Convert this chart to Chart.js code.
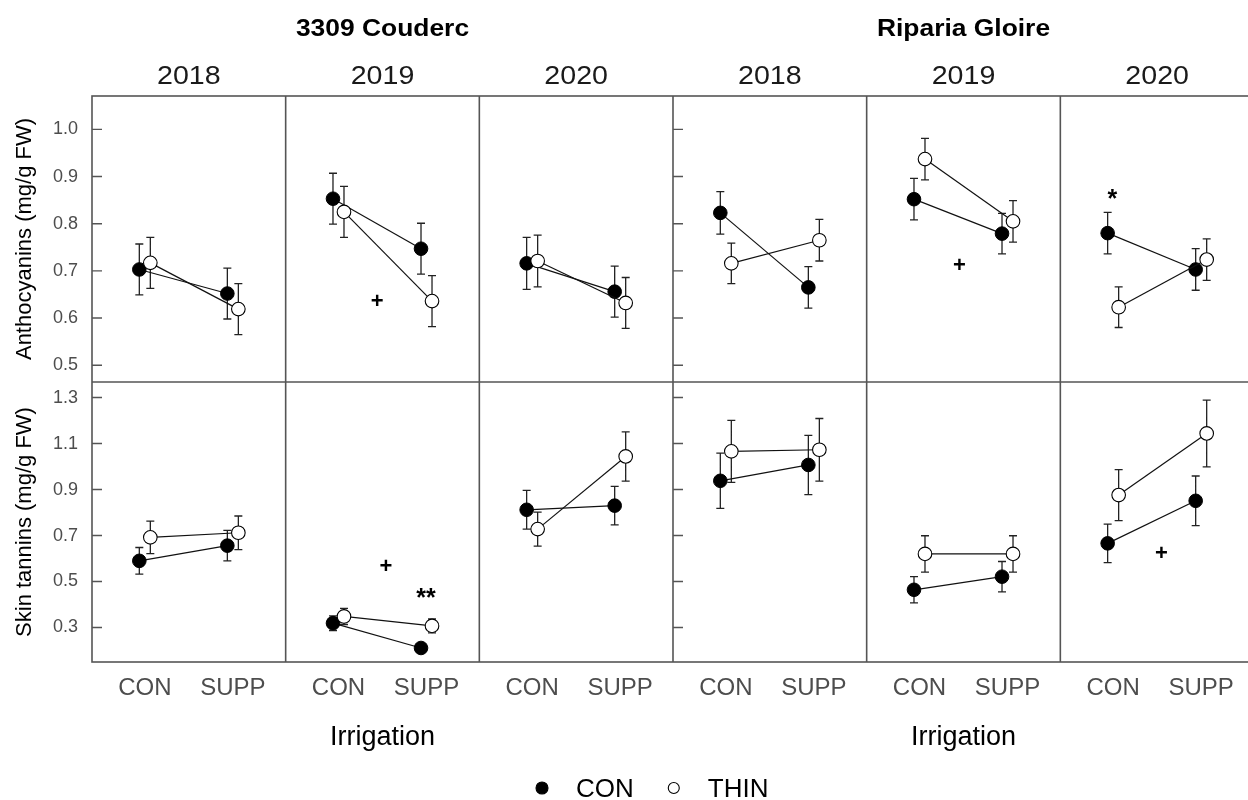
<!DOCTYPE html>
<html>
<head>
<meta charset="utf-8">
<script src="https://cdn.jsdelivr.net/npm/chart.js@4.4.1/dist/chart.umd.min.js"></script>
<style>
  html, body { margin: 0; padding: 0; background: #fff; overflow: hidden; width: 1248px; height: 800px; }
  #wrap { position: absolute; left: 0; top: 0; width: 1262px; height: 800px; }
</style>
</head>
<body>
<div id="wrap"><canvas id="c" width="1262" height="800"></canvas></div>
<script>
const FONT = '"Liberation Sans", Arial, sans-serif';

const rootstocks = ['3309 Couderc', 'Riparia Gloire'];
const years = ['2018', '2019', '2020'];
const irrigation = ['CON', 'SUPP'];
const treatments = ['CON', 'THIN'];
const anthTicks = [0.5, 0.6, 0.7, 0.8, 0.9, 1.0];
const tanTicks = [0.3, 0.5, 0.7, 0.9, 1.1, 1.3];

// one pair per panel: [irrigation CON, irrigation SUPP]
// panels: 3309 2018, 2019, 2020, Riparia 2018, 2019, 2020
const anthCon    = [[0.703, 0.652], [0.853, 0.747], [0.716, 0.656], [0.823, 0.665], [0.852, 0.779], [0.780, 0.703]];
const anthConSe  = [[0.054, 0.054], [0.054, 0.054], [0.055, 0.054], [0.045, 0.044], [0.044, 0.043], [0.044, 0.044]];
const anthThin   = [[0.717, 0.619], [0.825, 0.636], [0.721, 0.632], [0.716, 0.765], [0.937, 0.805], [0.623, 0.724]];
const anthThinSe = [[0.054, 0.054], [0.054, 0.054], [0.055, 0.054], [0.043, 0.044], [0.044, 0.044], [0.043, 0.044]];

const tanCon     = [[0.590, 0.656], [0.319, 0.211], [0.812, 0.830], [0.938, 1.007], [0.464, 0.521], [0.666, 0.851]];
const tanConSe   = [[0.058, 0.066], [0.032, 0.012], [0.084, 0.084], [0.120, 0.129], [0.057, 0.066], [0.084, 0.108]];
const tanThin    = [[0.692, 0.712], [0.348, 0.307], [0.728, 1.044], [1.066, 1.073], [0.620, 0.620], [0.876, 1.144]];
const tanThinSe  = [[0.071, 0.073], [0.035, 0.030], [0.074, 0.107], [0.135, 0.136], [0.079, 0.079], [0.111, 0.145]];

// significance marks: panel, row, x (irrigation units), y (value)
const marks = [
  {panel: 1, row: 'yA', x: 1.44,  y: 0.634, text: '+'},
  {panel: 4, row: 'yA', x: 1.455, y: 0.710, text: '+'},
  {panel: 5, row: 'yA', x: 0.99,  y: 0.849, text: '*'},
  {panel: 1, row: 'yT', x: 1.538, y: 0.565, text: '+'},
  {panel: 1, row: 'yT', x: 1.995, y: 0.422, text: '**'},
  {panel: 5, row: 'yT', x: 1.549, y: 0.620, text: '+'}
];

const rows = [
  {id: 'yA', title: 'Anthocyanins (mg/g FW)', ticks: anthTicks, min: 0.4645, max: 1.0707,
   con: anthCon, conSe: anthConSe, thin: anthThin, thinSe: anthThinSe, weight: 2, stackWeight: 286},
  {id: 'yT', title: 'Skin tannins (mg/g FW)', ticks: tanTicks, min: 0.150, max: 1.3677,
   con: tanCon, conSe: tanConSe, thin: tanThin, thinSe: tanThinSe, weight: 1, stackWeight: 280}
];

const panelCount = rootstocks.length * years.length;
const dodge = 0.0625;
const FRAME = '#555';

const scales = {};
for (let p = 0; p < panelCount; p++) {
  scales['x' + p] = {
    type: 'linear', axis: 'x', position: 'bottom', stack: 'cols', stackWeight: 1,
    min: 0.4, max: 2.6,
    grid: {display: false, drawTicks: false},
    border: {display: false},
    afterBuildTicks: s => { s.ticks = [{value: 1}, {value: 2}]; },
    afterFit: s => { s.height = 40; s.paddingLeft = 0; s.paddingRight = 0; },
    ticks: {
      callback: v => irrigation[v - 1],
      font: {family: FONT, size: 24}, color: '#4d4d4d', padding: 12,
      maxRotation: 0, autoSkip: false
    }
  };
}
rows.forEach(r => {
  scales[r.id] = {
    type: 'linear', axis: 'y', position: 'left', stack: 'rows',
    stackWeight: r.stackWeight, weight: r.weight,
    min: r.min, max: r.max,
    grid: {display: false, drawTicks: false},
    border: {display: false},
    afterBuildTicks: s => { s.ticks = r.ticks.map(v => ({value: v})); },
    afterFit: s => { s.width = 92; s.paddingTop = 0; s.paddingBottom = 0; },
    ticks: {callback: v => v.toFixed(1), font: {family: FONT, size: 18}, color: '#4d4d4d', padding: 14},
    title: {display: true, text: r.title, font: {family: FONT, size: 22}, color: '#000', padding: {top: 12, bottom: 0}}
  };
});

const styles = {
  THIN: {pointBackgroundColor: '#fff', pointBorderColor: '#000', pointBorderWidth: 1.1},
  CON:  {pointBackgroundColor: '#000', pointBorderColor: '#000', pointBorderWidth: 1}
};

const datasets = [];
rows.forEach(r => {
  for (let p = 0; p < panelCount; p++) {
    [['THIN', r.thin, r.thinSe, dodge], ['CON', r.con, r.conSe, -dodge]].forEach(([t, vals, se, d]) => {
      datasets.push(Object.assign({
        label: t,
        data: irrigation.map((_, i) => ({x: i + 1 + d, y: vals[p][i]})),
        se: se[p],
        xAxisID: 'x' + p, yAxisID: r.id,
        showLine: true, borderColor: '#111', borderWidth: 1.2,
        pointRadius: 6.8, pointHoverRadius: 6.8
      }, styles[t]));
    });
  }
});

function stretchText(ctx, text, x, y, sx) {
  ctx.save();
  ctx.translate(x, y);
  ctx.scale(sx, 1);
  ctx.fillText(text, 0, 0);
  ctx.restore();
}

const panelDecor = {
  id: 'panelDecor',
  beforeDatasetsDraw(chart) {
    const {ctx, chartArea: a} = chart;
    ctx.save();
    // error bars
    ctx.strokeStyle = '#222';
    ctx.lineWidth = 1.3;
    ctx.beginPath();
    chart.data.datasets.forEach((ds, i) => {
      const meta = chart.getDatasetMeta(i);
      const ys = chart.scales[ds.yAxisID];
      meta.data.forEach((el, j) => {
        const v = ds.data[j].y, e = ds.se[j];
        const y1 = ys.getPixelForValue(v - e), y2 = ys.getPixelForValue(v + e);
        ctx.moveTo(el.x, y1); ctx.lineTo(el.x, y2);
        ctx.moveTo(el.x - 4, y1); ctx.lineTo(el.x + 4, y1);
        ctx.moveTo(el.x - 4, y2); ctx.lineTo(el.x + 4, y2);
      });
    });
    ctx.stroke();
    // frame
    ctx.strokeStyle = FRAME;
    ctx.lineWidth = 1.6;
    ctx.strokeRect(a.left, a.top, a.right - a.left, a.bottom - a.top);
    ctx.beginPath();
    for (let p = 1; p < panelCount; p++) {
      const s = chart.scales['x' + p];
      ctx.moveTo(s.left, a.top); ctx.lineTo(s.left, a.bottom);
    }
    const yT = chart.scales.yT;
    ctx.moveTo(a.left, yT.top); ctx.lineTo(a.right, yT.top);
    ctx.stroke();
    // inward ticks at the start of each rootstock block
    ctx.lineWidth = 1.4;
    ctx.beginPath();
    rootstocks.forEach((_, k) => {
      const xs = chart.scales['x' + k * years.length].left;
      rows.forEach(r => {
        const ys = chart.scales[r.id];
        r.ticks.forEach(v => {
          const py = ys.getPixelForValue(v);
          ctx.moveTo(xs, py); ctx.lineTo(xs + 10, py);
        });
      });
    });
    ctx.stroke();
    ctx.restore();
  },
  afterDraw(chart) {
    const {ctx} = chart;
    ctx.save();
    ctx.fillStyle = '#000';
    ctx.textAlign = 'center';
    // significance marks
    ctx.textBaseline = 'middle';
    marks.forEach(m => {
      const xs = chart.scales['x' + m.panel], ys = chart.scales[m.row];
      ctx.font = m.text === '+' ? `bold 22px ${FONT}` : `bold 25px ${FONT}`;
      ctx.fillText(m.text, xs.getPixelForValue(m.x), ys.getPixelForValue(m.y));
    });
    ctx.textBaseline = 'alphabetic';
    rootstocks.forEach((r, k) => {
      const first = chart.scales['x' + k * years.length];
      const last = chart.scales['x' + (k * years.length + years.length - 1)];
      const cx = (first.left + last.right) / 2;
      ctx.fillStyle = '#000';
      ctx.font = `bold 24px ${FONT}`;
      stretchText(ctx, r, cx, 36, 1.1);
      ctx.font = `27px ${FONT}`;
      ctx.fillText('Irrigation', cx, 745);
      years.forEach((y, j) => {
        const s = chart.scales['x' + (k * years.length + j)];
        ctx.fillStyle = '#1a1a1a';
        ctx.font = `26px ${FONT}`;
        stretchText(ctx, y, (s.left + s.right) / 2, 84, 1.1);
      });
    });
    // legend
    let lx = 536;
    ctx.textAlign = 'left';
    ctx.font = `26px ${FONT}`;
    treatments.forEach(t => {
      const st = styles[t];
      ctx.beginPath();
      ctx.arc(lx + 6, 788, t === 'CON' ? 6 : 5.5, 0, Math.PI * 2);
      ctx.fillStyle = st.pointBackgroundColor;
      ctx.fill();
      ctx.strokeStyle = '#000';
      ctx.lineWidth = 1.1;
      ctx.stroke();
      ctx.fillStyle = '#000';
      ctx.fillText(t, lx + 40, 797);
      lx += 40 + ctx.measureText(t).width + 34;
    });
    ctx.restore();
  }
};

new Chart(document.getElementById('c'), {
  type: 'scatter',
  data: {datasets},
  options: {
    responsive: false,
    animation: false,
    events: [],
    layout: {padding: {left: 0, right: 8, top: 96, bottom: 98}},
    plugins: {legend: {display: false}, tooltip: {enabled: false}},
    scales
  },
  plugins: [panelDecor]
});
</script>
</body>
</html>
